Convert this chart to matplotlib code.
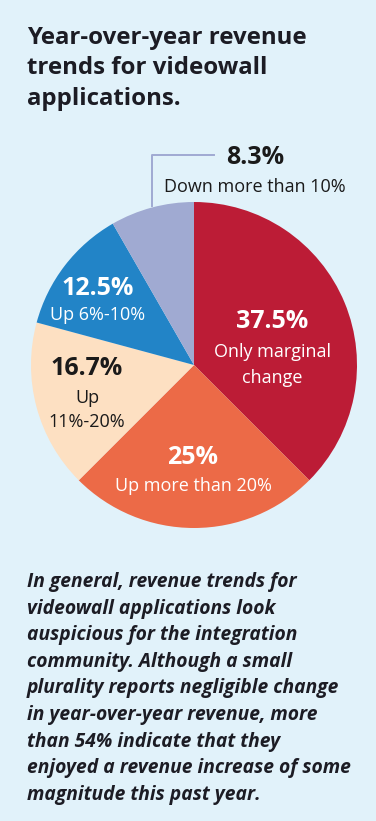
import matplotlib
matplotlib.use("Agg")
import matplotlib.pyplot as plt

W, H = 376, 821
DPI = 100

categories = ["Only marginal change", "Up more than 20%", "Up 11%-20%", "Up 6%-10%", "Down more than 10%"]
values = [37.5, 25.0, 16.7, 12.5, 8.3]
value_labels = ["37.5%", "25%", "16.7%", "12.5%", "8.3%"]
sub_labels = [["Only marginal", "change"], ["Up more than 20%"], ["Up", "11%-20%"], ["Up 6%-10%"], ["Down more than 10%"]]
colors = ["#BC1C36", "#EC6A47", "#FDE0C2", "#2284C7", "#A0AAD2"]
text_colors = ["white", "white", "#1a1a1a", "white", "#1a1a1a"]

title = "Year-over-year revenue\ntrends for videowall\napplications."
body = ("In general, revenue trends for\n"
        "videowall applications look\n"
        "auspicious for the integration\n"
        "community. Although a small\n"
        "plurality reports negligible change\n"
        "in year-over-year revenue, more\n"
        "than 54% indicate that they\n"
        "enjoyed a revenue increase of some\n"
        "magnitude this past year.")

BG = "#E1F2FA"
FONT = ["Open Sans", "DejaVu Sans"]

fig = plt.figure(figsize=(W / DPI, H / DPI), dpi=DPI, facecolor=BG)

def px(x, y):
    return x / W, 1 - y / H

# title
fig.text(*px(27, 26), title, ha="left", va="top", fontsize=17.3, fontweight="bold",
         family=FONT, color="#1c1c24", linespacing=1.36)

# pie axes
cx, cy, r = 194, 365, 163
ax = fig.add_axes([(cx - r) / W, (H - cy - r) / H, 2 * r / W, 2 * r / H])
ax.set_facecolor(BG)
wedges, _ = ax.pie(values, colors=colors, startangle=90, counterclock=False, radius=1,
                   wedgeprops=dict(linewidth=0))
ax.set_xlim(-1, 1)
ax.set_ylim(-1, 1)
ax.set_aspect("equal")
ax.axis("off")

# label positions in pixels: (x centre, value centre y, first sub-line centre y, sub-line step)
label_pos = [(272, 321, 352, 26), (193, 457, 486, 25), (87, 368, 398, 24), (98, 288, 315, 25), (255, 157, 187, 25)]
for i in range(len(values)):
    x, yv, ys0, step = label_pos[i]
    fig.text(*px(x, yv), value_labels[i], ha="center", va="center", fontsize=18,
             fontweight="bold", family=FONT, color=text_colors[i])
    for j, line in enumerate(sub_labels[i]):
        fig.text(*px(x, ys0 + j * step), line, ha="center", va="center",
                 fontsize=13, family=FONT, color=text_colors[i])

# leader line for small slice
xs = [152 / W, 152 / W, 214 / W]
ys = [1 - 206 / H, 1 - 155 / H, 1 - 155 / H]
fig.add_artist(plt.Line2D(xs, ys, color=colors[4], linewidth=1.4, transform=fig.transFigure))

# body text
fig.text(*px(27, 572), body, ha="left", va="top", fontsize=13.9, fontweight="bold",
         style="italic", family=FONT, color="#1c1c24", linespacing=1.44)

fig.savefig("out.png", dpi=DPI, facecolor=BG)
